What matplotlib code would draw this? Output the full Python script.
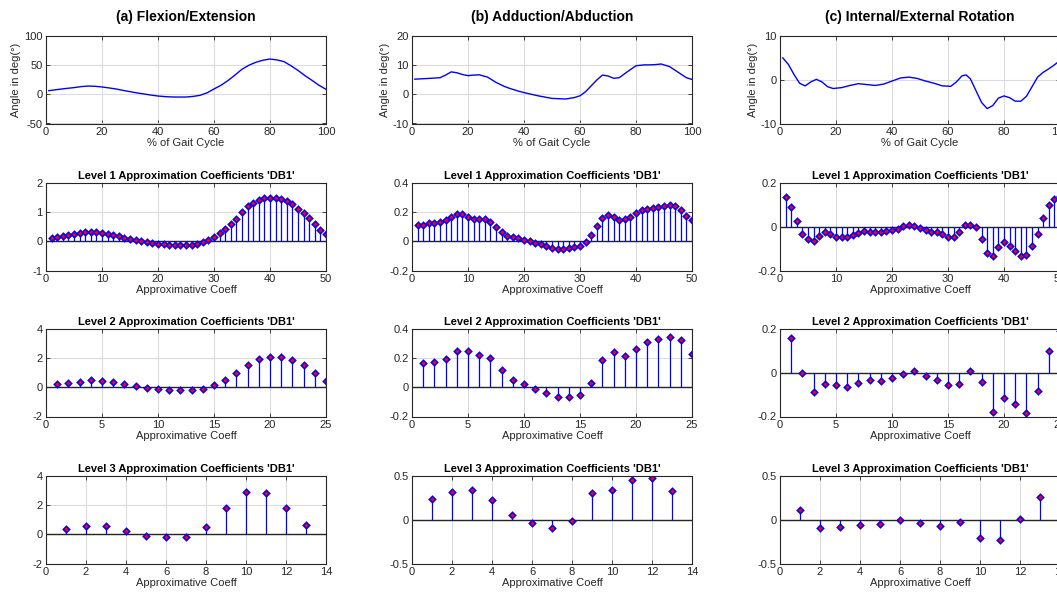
import numpy as np
import matplotlib
matplotlib.use("Agg")
import matplotlib.pyplot as plt
from matplotlib.ticker import FuncFormatter

plt.rcParams['font.family'] = ['Liberation Sans', 'DejaVu Sans']
plt.rcParams['axes.unicode_minus'] = False

# ---------------- data ----------------
col_titles = ["(a) Flexion/Extension", "(b) Adduction/Abduction", "(c) Internal/External Rotation"]

gait_a_x = [1, 2.5, 5, 7.5, 10, 12.5, 15, 17.5, 20, 22.5, 25, 27.5, 30, 32.5, 35, 37.5, 40, 42.5, 45,
            47.5, 50, 52.5, 55, 57.5, 60, 62.5, 65, 67.5, 70, 72.5, 75, 77.5, 80, 82.5, 85, 87.5, 90,
            92.5, 95, 97.5, 100]
gait_a_y = [6.3, 7.2, 8.8, 10.2, 11.5, 13.2, 14.2, 13.8, 12.6, 11.0, 9.2, 6.8, 4.6, 2.5, 0.6, -1.3,
            -2.9, -3.9, -4.5, -4.7, -4.6, -3.6, -1.7, 2.5, 9.2, 15.5, 23.6, 33.0, 43.0, 50.0, 55.0,
            58.5, 60.5, 59.0, 56.0, 49.0, 41.0, 32.0, 24.0, 15.5, 8.6]

gait_b_x = [1, 5, 10, 12, 14, 16, 18, 20, 22, 24, 27, 30, 33, 35, 38, 40, 45, 50, 55, 58, 60, 62, 64,
            66, 68, 70, 72, 74, 77, 80, 83, 85, 87, 89, 92, 95, 98, 100]
gait_b_y = [5.2, 5.4, 5.7, 6.6, 7.7, 7.4, 6.8, 6.4, 6.6, 6.7, 5.9, 4.1, 2.7, 2.0, 1.1, 0.6, -0.5, -1.4,
            -1.6, -1.1, -0.5, 0.9, 2.9, 4.9, 6.6, 6.3, 5.5, 5.7, 7.8, 9.8, 10.1, 10.1, 10.2, 10.4, 9.5,
            7.6, 5.7, 5.1]

gait_c_x = [1, 3, 5, 7, 9, 11, 13, 15, 17, 19, 22, 25, 28, 31, 34, 37, 40, 43, 46, 49, 52, 55, 58, 61,
            63, 65, 66.5, 68, 70, 72, 74, 76, 78, 80, 82, 84, 86, 88, 90, 92, 94, 96, 98, 100]
gait_c_y = [5.0, 3.5, 1.2, -0.8, -1.4, -0.5, 0.1, -0.5, -1.6, -2.0, -1.8, -1.3, -0.9, -1.1, -1.3, -1.0,
            -0.3, 0.4, 0.6, 0.3, -0.3, -0.8, -1.4, -1.5, -0.5, 0.9, 1.1, 0.2, -2.5, -5.2, -6.6, -5.9,
            -4.2, -3.7, -4.1, -4.9, -4.9, -3.8, -1.6, 0.6, 1.7, 2.5, 3.4, 4.4]

lvl1_a = [0.12, 0.15, 0.20, 0.22, 0.25, 0.28, 0.31, 0.33, 0.33, 0.30, 0.26, 0.22, 0.17, 0.13, 0.08,
          0.04, 0.00, -0.03, -0.05, -0.08, -0.10, -0.11, -0.11, -0.12, -0.12, -0.11, -0.08, -0.03,
          0.05, 0.15, 0.28, 0.43, 0.60, 0.78, 1.00, 1.20, 1.33, 1.42, 1.47, 1.50, 1.47, 1.44, 1.38,
          1.27, 1.12, 0.98, 0.80, 0.60, 0.40, 0.25]
lvl2_a = [0.20, 0.30, 0.40, 0.47, 0.45, 0.35, 0.20, 0.07, -0.05, -0.12, -0.17, -0.18, -0.18, -0.10,
          0.13, 0.50, 1.00, 1.55, 1.97, 2.10, 2.05, 1.88, 1.50, 1.00, 0.45]
lvl3_a = [0.37, 0.60, 0.57, 0.25, -0.10, -0.20, -0.16, 0.48, 1.82, 2.90, 2.83, 1.79, 0.67]

lvl1_b = [0.115, 0.115, 0.125, 0.125, 0.13, 0.145, 0.165, 0.185, 0.185, 0.165, 0.155, 0.155, 0.15,
          0.13, 0.10, 0.065, 0.04, 0.03, 0.02, 0.012, 0.002, -0.01, -0.02, -0.035, -0.045, -0.05,
          -0.05, -0.045, -0.04, -0.03, -0.003, 0.043, 0.105, 0.16, 0.18, 0.165, 0.145, 0.15, 0.17,
          0.195, 0.215, 0.225, 0.23, 0.235, 0.24, 0.248, 0.245, 0.215, 0.175, 0.145]
lvl2_b = [0.167, 0.176, 0.194, 0.25, 0.25, 0.22, 0.20, 0.12, 0.05, 0.023, -0.01, -0.04, -0.065,
          -0.066, -0.05, 0.03, 0.187, 0.242, 0.212, 0.263, 0.31, 0.33, 0.343, 0.325, 0.23]
lvl3_b = [0.242, 0.315, 0.335, 0.227, 0.054, -0.035, -0.092, -0.015, 0.308, 0.338, 0.458, 0.473, 0.327]

lvl1_c = [0.135, 0.092, 0.028, -0.032, -0.058, -0.066, -0.043, -0.026, -0.034, -0.046, -0.049, -0.046,
          -0.037, -0.028, -0.020, -0.023, -0.025, -0.022, -0.020, -0.015, -0.008, 0.005, 0.009, 0.003,
          -0.006, -0.015, -0.022, -0.026, -0.034, -0.046, -0.046, -0.025, 0.008, 0.006, -0.003,
          -0.054, -0.122, -0.132, -0.094, -0.071, -0.086, -0.112, -0.135, -0.129, -0.089, -0.031,
          0.042, 0.100, 0.126, 0.140]
lvl2_c = [0.160, -0.002, -0.087, -0.050, -0.056, -0.067, -0.046, -0.032, -0.037, -0.026, -0.005, 0.008,
          -0.015, -0.034, -0.058, -0.052, 0.009, -0.040, -0.180, -0.115, -0.142, -0.183, -0.082,
          0.099, 0.190]
lvl3_c = [0.115, -0.096, -0.088, -0.058, -0.046, 0.0, -0.035, -0.077, -0.020, -0.208, -0.230, 0.012, 0.265]

gait_x = [gait_a_x, gait_b_x, gait_c_x]
gait_y = [gait_a_y, gait_b_y, gait_c_y]
gait_ylim = [(-50, 100), (-10, 20), (-10, 10)]
gait_yticks = [[-50, 0, 50, 100], [-10, 0, 10, 20], [-10, 0, 10]]

levels = [[lvl1_a, lvl2_a, lvl3_a], [lvl1_b, lvl2_b, lvl3_b], [lvl1_c, lvl2_c, lvl3_c]]
lvl_ylim = [[(-1, 2), (-2, 4), (-2, 4)],
            [(-0.2, 0.4), (-0.2, 0.4), (-0.5, 0.5)],
            [(-0.2, 0.2), (-0.2, 0.2), (-0.5, 0.5)]]
lvl_yticks = [[[-1, 0, 1, 2], [-2, 0, 2, 4], [-2, 0, 2, 4]],
              [[-0.2, 0, 0.2, 0.4], [-0.2, 0, 0.2, 0.4], [-0.5, 0, 0.5]],
              [[-0.2, 0, 0.2], [-0.2, 0, 0.2], [-0.5, 0, 0.5]]]
lvl_xlim = [50, 25, 14]
lvl_xticks = [[0, 10, 20, 30, 40, 50], [0, 5, 10, 15, 20, 25], [0, 2, 4, 6, 8, 10, 12, 14]]

# ---------------- layout ----------------
W, H = 1057, 594
fig = plt.figure(figsize=(W / 100, H / 100), dpi=100)
col_left = [46, 412, 780]
row_top = [36, 183, 329, 476]
aw, ah = 280, 87.5

tick_col = '#262626'
fmt = FuncFormatter(lambda v, p: ('%g' % round(v, 6)))


def style(ax):
    ax.tick_params(direction='in', length=3, width=0.6, top=True, right=True,
                   labelsize=8, colors=tick_col, pad=2.5)
    for s in ax.spines.values():
        s.set_color('#262626')
        s.set_linewidth(0.8)
    ax.grid(True, color='#dcdcdc', linewidth=0.8)
    ax.set_axisbelow(True)
    ax.yaxis.set_major_formatter(fmt)
    ax.xaxis.set_major_formatter(fmt)


def make_ax(c, r):
    return fig.add_axes([col_left[c] / W, 1 - (row_top[r] + ah) / H, aw / W, ah / H])


for c in range(3):
    ax = make_ax(c, 0)
    ax.plot(gait_x[c], gait_y[c], color='blue', lw=1.0)
    ax.set_xlim(0, 100)
    ax.set_ylim(*gait_ylim[c])
    ax.set_xticks([0, 20, 40, 60, 80, 100])
    ax.set_yticks(gait_yticks[c])
    style(ax)
    ax.set_xlabel('% of Gait Cycle', fontsize=8, color=tick_col, labelpad=1)
    ax.set_ylabel('Angle in deg(°)', fontsize=8, color=tick_col, labelpad=2)
    fig.text((col_left[c] + aw / 2) / W, 1 - 17 / H, col_titles[c], ha='center', va='center',
             fontsize=10, fontweight='bold')

    for lv in range(3):
        ax = make_ax(c, lv + 1)
        vals = levels[c][lv]
        xs = np.arange(1, len(vals) + 1)
        ax.axhline(0, color='#262626', lw=1.0, zorder=1.5)
        ml, sl, bl = ax.stem(xs, vals, linefmt='b-', markerfmt='D', basefmt=' ')
        sl.set_linewidth(0.9)
        sl.set_color('blue')
        ml.set_markerfacecolor('red')
        ml.set_markeredgecolor('blue')
        ml.set_markersize(3.3)
        ml.set_markeredgewidth(1.1)
        ax.set_xlim(0, lvl_xlim[lv])
        ax.set_ylim(*lvl_ylim[c][lv])
        ax.set_xticks(lvl_xticks[lv])
        ax.set_yticks(lvl_yticks[c][lv])
        style(ax)
        ax.set_xlabel('Approximative Coeff', fontsize=8, color=tick_col, labelpad=1)
        ax.set_title("Level %d Approximation Coefficients 'DB1'" % (lv + 1), fontsize=8,
                     fontweight='bold', pad=3)

fig.savefig('out.png', dpi=100)
